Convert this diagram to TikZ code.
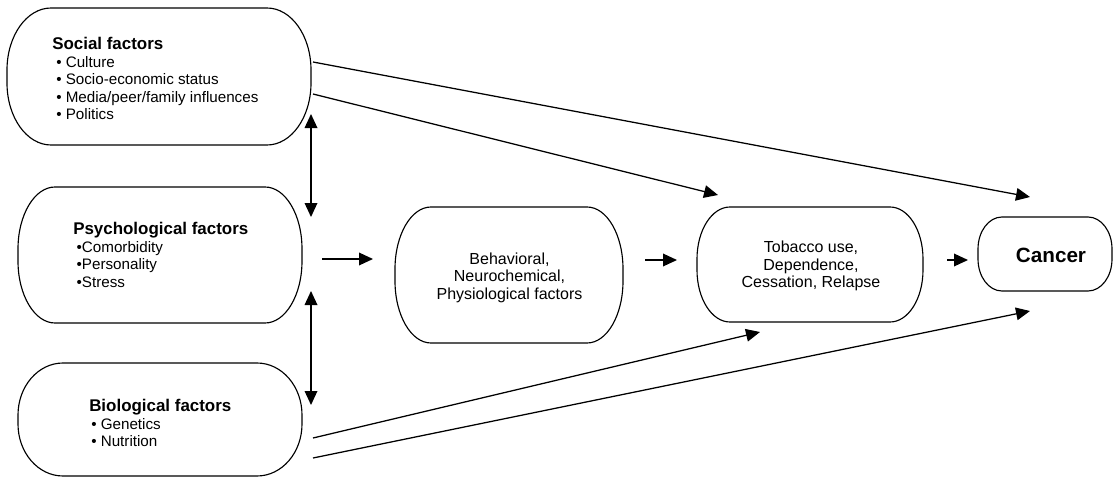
\documentclass[tikz,border=0pt]{standalone}
\usepackage{fontspec}
\setmainfont{Liberation Sans}
\usetikzlibrary{arrows.meta}
% rounded "pill" outline: x1 y1 x2 y2 rx ry (pixel units, y downwards)
\newcommand{\pilloutline}[6]{%
  \draw[boxline] (#1+#5,#2) -- (#3-#5,#2)
    arc[start angle=270,end angle=360,x radius=#5,y radius=#6]
    -- (#3,#4-#6)
    arc[start angle=0,end angle=90,x radius=#5,y radius=#6]
    -- (#1+#5,#4)
    arc[start angle=90,end angle=180,x radius=#5,y radius=#6]
    -- (#1,#2+#6)
    arc[start angle=180,end angle=270,x radius=#5,y radius=#6]
    -- cycle;}
\newcommand{\hd}[1]{{\fontsize{12.7}{13}\selectfont\bfseries #1}}
\tikzset{
  boxline/.style={line width=0.85pt, black},
  boxnode/.style={draw=none, inner sep=0pt, align=center},
  listtext/.style={inner sep=0pt, align=left, anchor=north west,
    font=\fontsize{11.4}{13}\selectfont},
  midtext/.style={font=\fontsize{12}{13.1}\selectfont},
  arr/.style={line width=0.95pt, -{Triangle[length=10.5pt,width=9.5pt]}},
  darr/.style={line width=0.95pt, {Triangle[length=10.5pt,width=9.5pt]}-{Triangle[length=10.5pt,width=9.5pt]}}
}
\begin{document}
\begin{tikzpicture}[x=0.75pt,y=-0.75pt]
\useasboundingbox (0,0) rectangle (1114,478);
% box nodes
\node[boxnode, minimum width=228pt, minimum height=102.75pt] (soc) at (159,76.5) {};
\node[boxnode, minimum width=213pt, minimum height=102pt] (psy) at (160,255) {};
\node[boxnode, minimum width=213pt, minimum height=84.75pt] (bio) at (160,419.5) {};
\node[boxnode, midtext, minimum width=171pt, minimum height=102pt] (beh) at (509.5,277.5)
  {Behavioral,\\Neurochemical,\\Physiological factors};
\node[boxnode, midtext, minimum width=169.5pt, minimum height=86.25pt] (tob) at (811,266)
  {Tobacco use,\\Dependence,\\Cessation, Relapse};
\node[boxnode, minimum width=100.5pt, minimum height=55.5pt, font=\fontsize{15.5}{16}\selectfont\bfseries] (can) at (1051,255) {Cancer};
% outlines
\pilloutline{7}{8}{311}{145}{44}{62}
\pilloutline{18}{187}{302}{323}{37}{62}
\pilloutline{18}{363}{302}{476}{45}{52}
\pilloutline{395}{207}{623}{343}{36}{62}
\pilloutline{697}{207}{923}{322}{33}{52}
\pilloutline{978}{217}{1112}{291}{24}{32}
% list texts
\node[listtext] (soctxt) at (52,37) {\hd{Social factors}\\[0.5pt]
  \hspace{3pt}\textbullet\ Culture\\
  \hspace{3pt}\textbullet\ Socio-economic status\\
  \hspace{3pt}\textbullet\ Media/peer/family influences\\
  \hspace{3pt}\textbullet\ Politics};
\node[listtext] (psytxt) at (73,222) {\hd{Psychological factors}\\[0.5pt]
  \hspace{2.5pt}\textbullet Comorbidity\\
  \hspace{2.5pt}\textbullet Personality\\
  \hspace{2.5pt}\textbullet Stress};
\node[listtext] (biotxt) at (89,399) {\hd{Biological factors}\\[0.5pt]
  \hspace{1.5pt}\textbullet\ Genetics\\
  \hspace{1.5pt}\textbullet\ Nutrition};
% arrow end points
\coordinate (sc1) at (313,62);   \coordinate (sc2) at (1030,197);
\coordinate (st1) at (313,94);   \coordinate (st2) at (718,195);
\coordinate (bt1) at (313,438);  \coordinate (bt2) at (760,332);
\coordinate (bc1) at (313,458);  \coordinate (bc2) at (1030,311);
\coordinate (sp1) at (311,114);  \coordinate (sp2) at (311,217);
\coordinate (pb1) at (311,291);  \coordinate (pb2) at (311,405);
\coordinate (h11) at (322,259);  \coordinate (h12) at (373,259);
\coordinate (h21) at (645,260);  \coordinate (h22) at (677,260);
\coordinate (h31) at (947,260);  \coordinate (h32) at (968,260);
% connectors
\draw[arr] (sc1) -- (sc2);
\draw[arr] (st1) -- (st2);
\draw[arr] (bt1) -- (bt2);
\draw[arr] (bc1) -- (bc2);
\draw[darr] (sp1) -- (sp2);
\draw[darr] (pb1) -- (pb2);
\draw[arr] (h11) -- (h12);
\draw[arr] (h21) -- (h22);
\draw[arr] (h31) -- (h32);
\end{tikzpicture}
\end{document}
